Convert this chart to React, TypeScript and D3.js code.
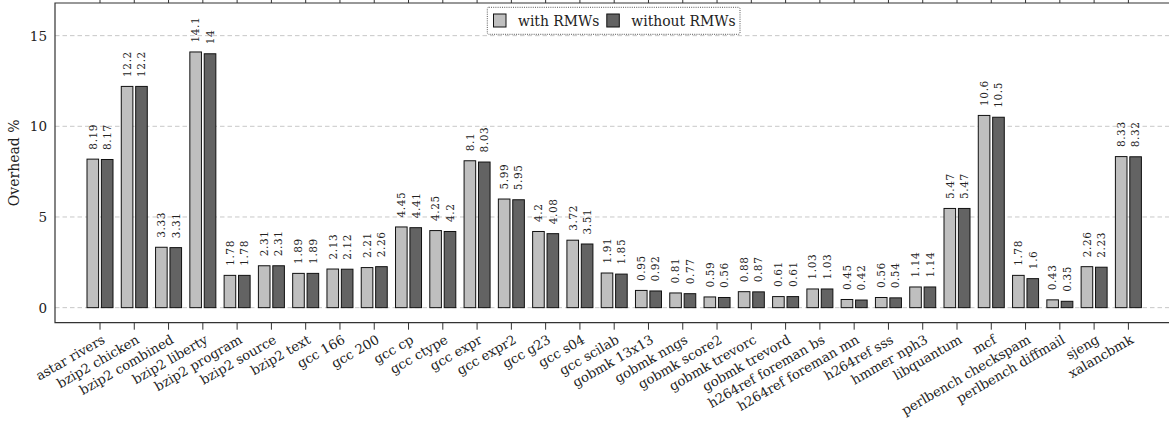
import React from "react";
import * as d3 from "d3";

const categories = [
  "astar rivers", "bzip2 chicken", "bzip2 combined", "bzip2 liberty", "bzip2 program",
  "bzip2 source", "bzip2 text", "gcc 166", "gcc 200", "gcc cp", "gcc ctype", "gcc expr",
  "gcc expr2", "gcc g23", "gcc s04", "gcc scilab", "gobmk 13x13", "gobmk nngs",
  "gobmk score2", "gobmk trevorc", "gobmk trevord", "h264ref foreman bs",
  "h264ref foreman mn", "h264ref sss", "hmmer nph3", "libquantum", "mcf",
  "perlbench checkspam", "perlbench diffmail", "sjeng", "xalancbmk",
];

const withRMWs = [
  8.19, 12.2, 3.33, 14.1, 1.78, 2.31, 1.89, 2.13, 2.21, 4.45, 4.25, 8.1, 5.99, 4.2, 3.72,
  1.91, 0.95, 0.81, 0.59, 0.88, 0.61, 1.03, 0.45, 0.56, 1.14, 5.47, 10.6, 1.78, 0.43, 2.26, 8.33,
];

const withoutRMWs = [
  8.17, 12.2, 3.31, 14, 1.78, 2.31, 1.89, 2.12, 2.26, 4.41, 4.2, 8.03, 5.95, 4.08, 3.51,
  1.85, 0.92, 0.77, 0.56, 0.87, 0.61, 1.03, 0.42, 0.54, 1.14, 5.47, 10.5, 1.6, 0.35, 2.23, 8.32,
];

const yTicks = [0, 5, 10, 15];

const seriesNames = ["with RMWs", "without RMWs"];
const seriesFill = ["#bfbfbf", "#636363"];

const W = 1169;
const H = 424;
const left = 55;
const right = 1173;
const top = 3;
const bottom = 322.7;

const FONT = "'DejaVu Serif', serif";

export default function App() {
  const x = d3
    .scaleBand<string>()
    .domain(categories)
    .range([82.86, 82.86 + 34.28 * categories.length])
    .padding(0);
  const y = d3.scaleLinear().domain([-0.83, 16.8]).range([bottom, top]);

  const barW = 11.6;
  const offsets = [-7.2, 7.2];
  const series = [withRMWs, withoutRMWs];

  const center = (c: string) => (x(c) as number) + x.bandwidth() / 2;

  return (
    <svg
      width={W}
      height={H}
      style={{ position: "absolute", left: 0, top: 0, background: "#fff" }}
      fontFamily={FONT}
    >
      <rect x={0} y={0} width={W} height={H} fill="#fff" />
      {/* grid */}
      {yTicks.map((t) => (
        <line
          key={"g" + t}
          x1={left}
          x2={right}
          y1={y(t)}
          y2={y(t)}
          stroke="#c8c8c8"
          strokeWidth={1}
          strokeDasharray="4.5,3"
        />
      ))}
      {/* y tick labels */}
      {yTicks.map((t) => (
        <text
          key={"yl" + t}
          x={47}
          y={y(t)}
          dy="0.36em"
          textAnchor="end"
          fontSize={13.5}
          fill="#222"
        >
          {t}
        </text>
      ))}
      <text
        transform={`translate(19,${(top + bottom) / 2}) rotate(-90)`}
        textAnchor="middle"
        fontSize={14}
        fill="#222"
      >
        Overhead %
      </text>

      {/* bars */}
      {series.map((vals, si) =>
        categories.map((c, i) => {
          const cx = center(c) + offsets[si];
          const v = vals[i];
          return (
            <g key={`b${si}-${i}`}>
              <rect
                x={cx - barW / 2}
                y={y(v)}
                width={barW}
                height={y(0) - y(v)}
                fill={seriesFill[si]}
                stroke="#111"
                strokeWidth={1}
              />
              <text
                transform={`translate(${cx},${y(v) - 9.5}) rotate(-90)`}
                textAnchor="start"
                dy="0.36em"
                fontSize={10.5}
                letterSpacing={0.6}
                fill="#222"
              >
                {String(v)}
              </text>
            </g>
          );
        })
      )}

      {/* frame */}
      <path
        d={`M${right},${top}H${left}V${bottom}H${right}`}
        fill="none"
        stroke="#333"
        strokeWidth={1.2}
      />
      {/* x ticks */}
      {categories.map((c) => (
        <g key={"t" + c}>
          <line x1={center(c)} x2={center(c)} y1={bottom} y2={bottom + 7} stroke="#333" />
          <line x1={center(c)} x2={center(c)} y1={top} y2={top - 7} stroke="#333" />
          <text
            transform={`translate(${center(c) + 1},${bottom + 11}) rotate(-30)`}
            textAnchor="end"
            dy="0.75em"
            fontSize={13.2}
            fill="#222"
          >
            {c}
          </text>
        </g>
      ))}

      {/* legend */}
      <g>
        <rect
          x={487.3}
          y={7.3}
          width={252.7}
          height={27}
          fill="#fff"
          stroke="#444"
          strokeWidth={0.9}
          strokeDasharray="1,1.2"
          rx={1.5}
        />
        {seriesNames.map((n, i) => {
          const sx = i === 0 ? 493.5 : 606.8;
          return (
            <g key={n}>
              <rect
                x={sx}
                y={14}
                width={12.5}
                height={13}
                fill={seriesFill[i]}
                stroke="#111"
                strokeWidth={1}
              />
              <text x={sx + 24.5} y={25.5} fontSize={13.9} fill="#222">
                {n}
              </text>
            </g>
          );
        })}
      </g>
    </svg>
  );
}
